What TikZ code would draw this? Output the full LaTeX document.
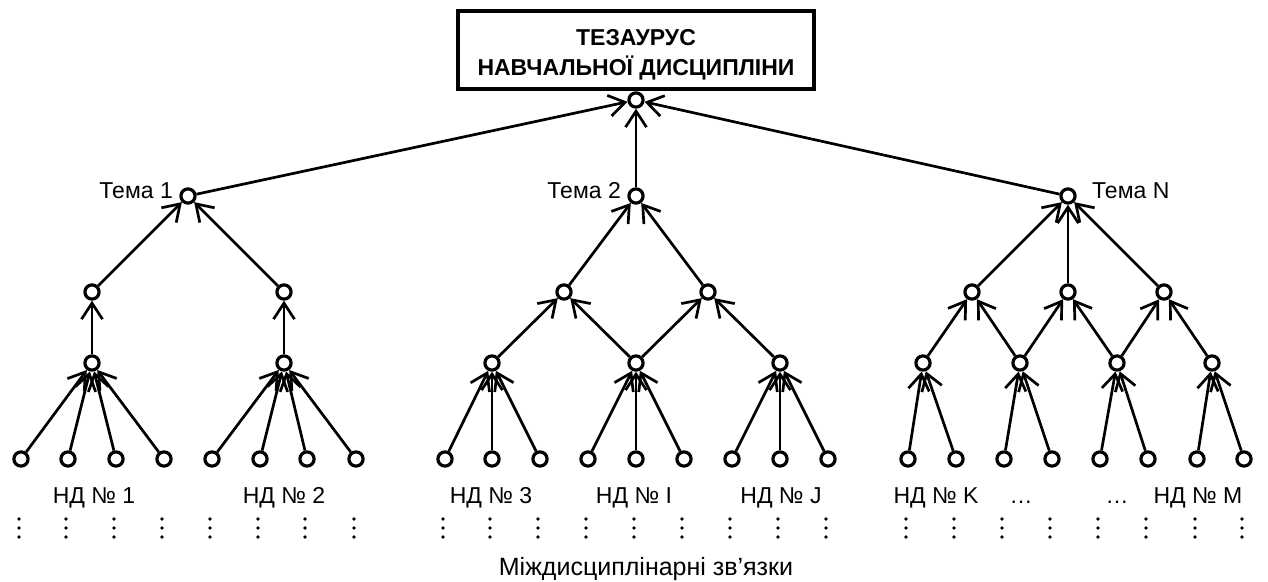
\documentclass[tikz,border=0pt]{standalone}
\usepackage{fontspec}
\setmainfont{Liberation Sans}
\usetikzlibrary{arrows.meta}
\begin{document}
\begin{tikzpicture}[x=1pt,y=-1pt,
  vtx/.style={circle,draw,line width=3.2pt,minimum size=14.2pt,inner sep=0pt},
  arr/.style={line width=2.7pt,-{Straight Barb[length=16pt,width=21pt,line width=2.7pt]}},
  lbl/.style={font=\fontsize{23}{28}\selectfont,inner sep=0pt,anchor=base},
  ttl/.style={font=\bfseries\fontsize{23}{28}\selectfont,inner sep=0pt,anchor=base},
  tbox/.style={draw,line width=3.3pt,minimum width=356pt,minimum height=78pt,inner sep=0pt},
  dotc/.style={fill=black}
]
\useasboundingbox (0,0) rectangle (1268,581);
% title
\node[tbox] (box) at (636,50) {};
\node[ttl] (title1) at (636,45) {ТЕЗАУРУС};
\node[ttl] (title2) at (636,75) {НАВЧАЛЬНОЇ ДИСЦИПЛІНИ};
\node[vtx] (root) at (636,100) {};
% themes
\node[vtx] (t1) at (188,196) {};
\node[vtx] (t2) at (636,196) {};
\node[vtx] (tn) at (1068,196) {};
\node[lbl,anchor=base east] (lt1) at (173,198) {Тема 1};
\node[lbl,anchor=base east] (lt2) at (621,198) {Тема 2};
\node[lbl,anchor=base west] (ltn) at (1092,198) {Тема N};
% level 2
\foreach \n/\x in {a1/92,a2/284,c1/564,c2/708,e1/972,e2/1068,e3/1164}
  \node[vtx] (\n) at (\x,292) {};
% level 3
\foreach \n/\x in {b1/92,b2/284,d1/492,d2/636,d3/780,f1/923,f2/1020,f3/1117,f4/1212}
  \node[vtx] (\n) at (\x,363) {};
% leaves
\foreach \n/\x in {l1/21,l2/68,l3/116,l4/164,l5/212,l6/260,l7/307,l8/356,
  m1/445,m2/492,m3/540,m4/588,m5/636,m6/684,m7/732,m8/780,m9/828,
  n1/908,n2/956,n3/1004,n4/1052,n5/1100,n6/1148,n7/1197,n8/1244}
  {\node[vtx] (\n) at (\x,459) {};
   \fill[dotc] (\x-2,519) circle (1.8pt);
   \fill[dotc] (\x-2,528) circle (1.8pt);
   \fill[dotc] (\x-2,537) circle (1.8pt);}
% edges
\foreach \s/\t in {t1/root,t2/root,tn/root,
  a1/t1,a2/t1,c1/t2,c2/t2,e1/tn,e2/tn,e3/tn,
  b1/a1,b2/a2,d1/c1,d2/c1,d2/c2,d3/c2,
  f1/e1,f2/e1,f2/e2,f3/e2,f3/e3,f4/e3,
  l1/b1,l2/b1,l3/b1,l4/b1,l5/b2,l6/b2,l7/b2,l8/b2,
  m1/d1,m2/d1,m3/d1,m4/d2,m5/d2,m6/d2,m7/d3,m8/d3,m9/d3,
  n1/f1,n2/f1,n3/f2,n4/f2,n5/f3,n6/f3,n7/f4,n8/f4}
  \draw[arr] (\s) -- (\t);
% leaf group labels
\node[lbl] (nd1) at (94,503) {НД № 1};
\node[lbl] (nd2) at (284,503) {НД № 2};
\node[lbl] (nd3) at (491,503) {НД № 3};
\node[lbl] (ndi) at (634,503) {НД № I};
\node[lbl] (ndj) at (781,503) {НД № J};
\node[lbl] (ndk) at (936,503) {НД № K};
\node[lbl] (el1) at (1021,503) {…};
\node[lbl] (el2) at (1117,503) {…};
\node[lbl] (ndm) at (1198,503) {НД № M};
\node[lbl,font=\fontsize{25}{30}\selectfont] (mz) at (646,575) {Міждисциплінарні зв’язки};
\end{tikzpicture}
\end{document}
